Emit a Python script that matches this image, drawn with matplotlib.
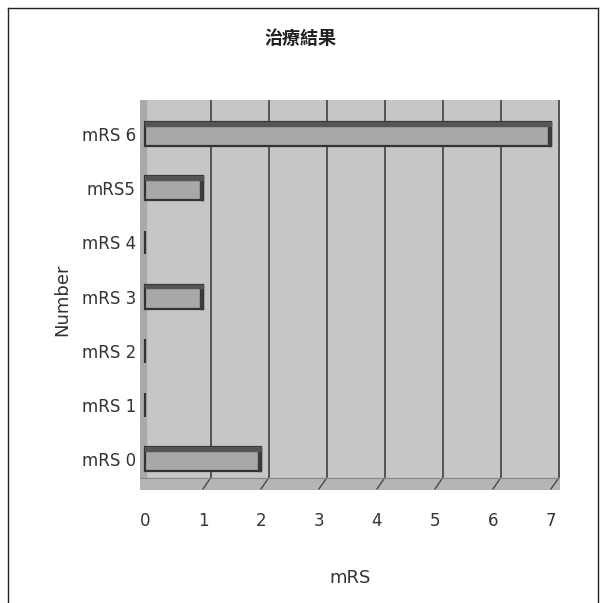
import numpy as np
import matplotlib
matplotlib.use('Agg')
import matplotlib.pyplot as plt
from matplotlib.patches import Rectangle

plt.rcParams['font.family'] = ['DejaVu Sans', 'Noto Sans CJK TC']

# 数据
categories = ['mRS 0', 'mRS 1', 'mRS 2', 'mRS 3', 'mRS 4', 'mRS5', 'mRS 6']
counts = [2, 0, 0, 1, 0, 1, 7]
x_ticks = [0, 1, 2, 3, 4, 5, 6, 7]
title = '治療結果'

fig = plt.figure(figsize=(6.05, 6.03), dpi=100)
W, H = 605, 603

# 外框
fig.add_artist(plt.Line2D([8 / W, 8 / W], [0, 1 - 8 / H], color='#222', lw=1.0))
fig.add_artist(plt.Line2D([8 / W, 598 / W], [1 - 8 / H, 1 - 8 / H], color='#222', lw=1.0))
fig.add_artist(plt.Line2D([598 / W, 598 / W], [0, 1 - 8 / H], color='#222', lw=1.0))

# 绘图区 140..560 px, 100..490 px
ax = fig.add_axes([140 / W, 1 - 490 / H, 420 / W, 390 / H])
unit = 58.0
xmin, xmax = -5 / unit, 7 + 9 / unit
ax.set_xlim(xmin, xmax)
ax.set_ylim(-0.57, 6.63)
ax.set_facecolor('#c6c6c6')
for s in ax.spines.values():
    s.set_visible(False)

# 后墙网格线
for t in x_ticks[1:]:
    ax.plot([t + 0.13, t + 0.13], [-0.35, 6.63], color='#4a4a4a', lw=1.3, zorder=1)
    ax.plot([t + 0.13, t], [-0.35, -0.55], color='#4a4a4a', lw=1.0, zorder=2)

# 左墙和地板
ax.add_patch(Rectangle((xmin, -0.57), -xmin + 0.02, 7.2, color='#a9a9a9', zorder=1))
ax.add_patch(Rectangle((xmin, -0.57), xmax - xmin, 0.22, color='#b5b5b5', zorder=1))
ax.plot([xmin, xmax], [-0.35, -0.35], color='#8a8a8a', lw=0.8, zorder=2)

# 条形
y = np.arange(len(categories))
bh = 0.44
ax.barh(y, counts, height=bh, left=0, color='#a8a8a8', edgecolor='#333333',
        linewidth=1.6, zorder=3)
for yi, c in zip(y, counts):
    if c > 0:
        ax.add_patch(Rectangle((c - 0.06, yi - bh / 2), 0.06, bh, color='#3a3a3a', zorder=4))
        ax.add_patch(Rectangle((0, yi + bh / 2 - 0.07), c, 0.07, color='#555555', zorder=4))

ax.set_yticks(y)
ax.set_yticklabels(categories, fontsize=12, color='#333')
ax.set_xticks(x_ticks)
ax.set_xticklabels([str(t) for t in x_ticks], fontsize=12, color='#333')
ax.tick_params(length=0, pad=3)
ax.tick_params(axis='x', pad=16)

fig.text(300 / W, 1 - 38 / H, title, ha='center', va='center', fontsize=13,
         family=['Noto Sans CJK TC', 'DejaVu Sans'], color='#222', weight='bold')
fig.text(62 / W, 1 - 300 / H, 'Number', rotation=90, ha='center', va='center',
         fontsize=13, color='#333')
fig.text(350 / W, 1 - 578 / H, 'mRS', ha='center', va='center', fontsize=13, color='#333')

plt.savefig('out.png', dpi=100)
